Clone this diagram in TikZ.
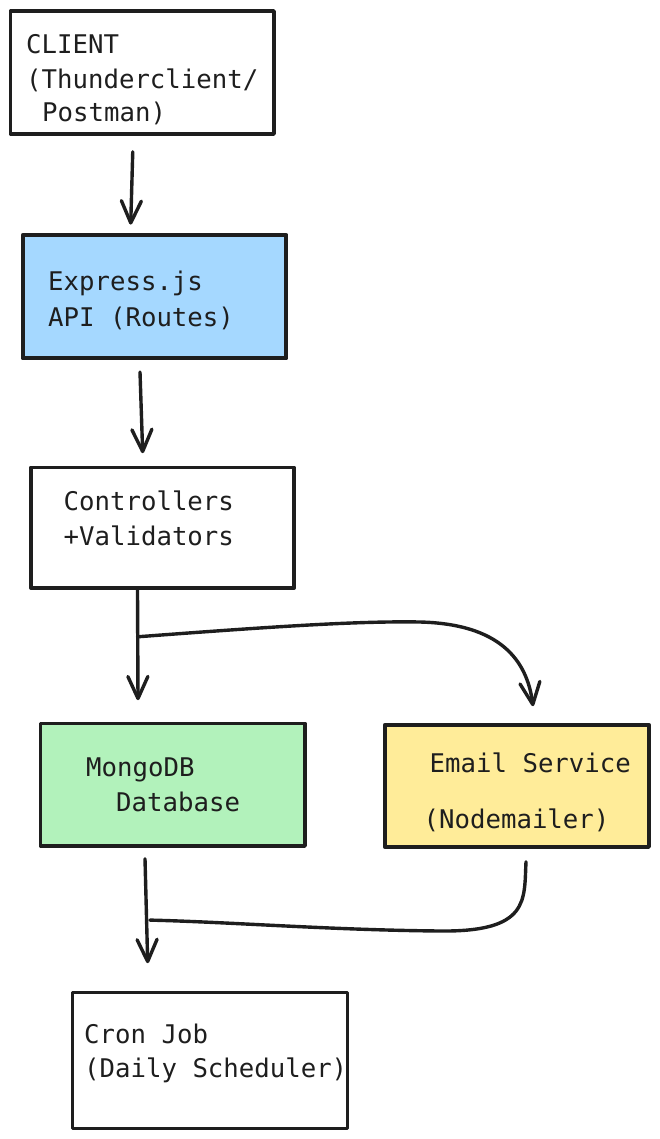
\documentclass[tikz,border=0pt]{standalone}
\usepackage{fontspec}
\usetikzlibrary{arrows.meta}
\newfontfamily\handfont{DejaVu Sans Mono}
\definecolor{ink}{HTML}{1E1E1E}
\definecolor{exblue}{HTML}{A5D8FF}
\definecolor{dbgreen}{HTML}{B2F2BB}
\definecolor{mailyellow}{HTML}{FFEC99}
\tikzset{
  boxnode/.style={draw=ink, line width=3.6pt, rectangle, inner sep=0pt, line join=round},
  txt/.style={anchor=base west, inner sep=0pt, text=ink, font=\handfont\fontsize{25.7}{34}\selectfont},
  conn/.style={draw=ink, line width=3.4pt, line cap=round, line join=round},
  arr/.style={conn, -{Straight Barb[length=22pt,width=20pt,line cap=round,line join=round]}}
}
\begin{document}
\begin{tikzpicture}[x=1pt,y=-1pt]
\useasboundingbox (0,0) rectangle (659,1139);
% boxes
\node[boxnode, minimum width=263.5pt, minimum height=123pt] (client) at (142.25,72.5) {};
\node[boxnode, fill=exblue, line width=4.2pt, minimum width=263.5pt, minimum height=123.3pt] (express) at (154.55,296.65) {};
\node[boxnode, minimum width=263.4pt, minimum height=120.5pt] (ctrl) at (162.5,527.75) {};
\node[boxnode, fill=dbgreen, minimum width=264.5pt, minimum height=122.7pt] (mongo) at (172.75,784.65) {};
\node[boxnode, fill=mailyellow, minimum width=264.3pt, minimum height=122.3pt] (email) at (516.85,785.85) {};
\node[boxnode, minimum width=275.2pt, minimum height=136pt] (cron) at (209.9,1060.3) {};
% texts
\node[txt] (client1) at (26,53.3) {CLIENT};
\node[txt] (client2) at (26,89) {(Thunderclient/};
\node[txt] (client3) at (42,121.7) {Postman)};
\node[txt] (express1) at (48,290.7) {Express.js};
\node[txt] (express2) at (48,326) {API (Routes)};
\node[txt] (ctrl1) at (63.5,510) {Controllers};
\node[txt] (ctrl2) at (63.5,545.7) {+Validators};
\node[txt] (mongo1) at (86,776.3) {MongoDB};
\node[txt] (mongo2) at (116,811.3) {Database};
\node[txt] (email1) at (429.5,772.7) {Email Service};
\node[txt] (email2) at (423.5,828) {(Nodemailer)};
\node[txt] (cron1) at (84,1043) {Cron Job};
\node[txt] (cron2) at (84,1077) {(Daily Scheduler)};
% junction coordinates
\coordinate (j1) at ([xshift=-25pt,yshift=-47pt]ctrl.south);
\coordinate (j2) at ([xshift=-22.75pt,yshift=-72.3pt]mongo.south);
% connectors
\draw[arr] ([xshift=-9.5pt,yshift=-16pt]client.south) -- ([xshift=-23.85pt,yshift=8.3pt]express.north);
\draw[arr] ([xshift=-14.55pt,yshift=-11.7pt]express.south) -- ([xshift=-19.8pt,yshift=12.5pt]ctrl.north);
\draw[arr] ([xshift=-25pt]ctrl.south) -- ([xshift=-34.75pt,yshift=21.3pt]mongo.north);
\draw[arr] (j1) .. controls (280,626) and (360,621) .. (420,622)
  .. controls (500,624) and (527,660) .. ([xshift=16.15pt,yshift=16.7pt]email.north);
\draw[arr] ([xshift=-27.75pt,yshift=-11pt]mongo.south) -- ([xshift=-62.2pt,yshift=27.3pt]cron.north);
\draw[conn] ([xshift=9.15pt,yshift=-13pt]email.south) .. controls (524,900) and (530,932) .. (440,931)
  .. controls (330,930) and (230,922) .. (j2);
\end{tikzpicture}
\end{document}
